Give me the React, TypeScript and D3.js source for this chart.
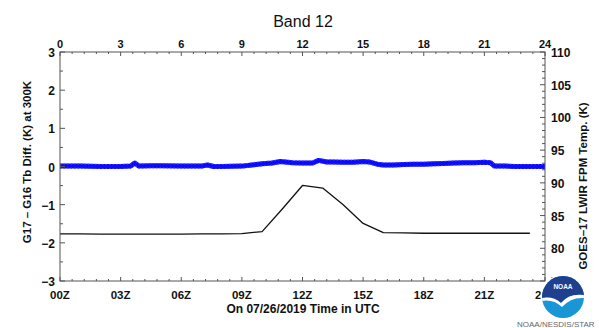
import * as d3 from 'd3';

// Black line: GOES-17 LWIR FPM temperature (K), right axis
const tempHours = [0, 1, 2, 3, 4, 5, 6, 7, 8, 9, 10, 11, 12, 13, 14, 15, 16, 17, 18, 19, 20, 21, 22, 23, 23.25];
const tempValues = [82.2, 82.2, 82.15, 82.15, 82.15, 82.15, 82.15, 82.2, 82.2, 82.25, 82.55, 86.0, 89.6, 89.2, 86.7, 83.8, 82.4, 82.35, 82.3, 82.3, 82.3, 82.3, 82.3, 82.3, 82.3];

// Blue band: G17 - G16 Tb difference (K), left axis
const diffHours = [0, 1, 2, 3, 3.5, 3.7, 3.9, 4.5, 5, 6, 7, 7.3, 7.6, 8, 9, 9.5, 10, 10.5, 10.9, 11.5, 12, 12.5, 12.8, 13.2, 13.5, 14, 14.5, 15, 15.3, 15.7, 16, 16.5, 17, 17.5, 18, 18.5, 19, 19.5, 20, 20.5, 21, 21.3, 21.5, 22, 22.5, 23, 23.5, 24];
const diffValues = [0.01, 0.01, 0.0, 0.0, 0.01, 0.09, 0.01, 0.02, 0.02, 0.01, 0.01, 0.04, 0.0, 0.0, 0.01, 0.04, 0.07, 0.09, 0.13, 0.1, 0.09, 0.09, 0.16, 0.12, 0.12, 0.11, 0.11, 0.13, 0.12, 0.06, 0.04, 0.04, 0.05, 0.06, 0.06, 0.07, 0.08, 0.09, 0.1, 0.1, 0.11, 0.1, 0.01, 0.01, 0.0, 0.0, 0.0, 0.0];

const topTicks = [0, 3, 6, 9, 12, 15, 18, 21, 24];
const bottomLabels = ['00Z', '03Z', '06Z', '09Z', '12Z', '15Z', '18Z', '21Z', '24Z'];
const leftTicks = [-3, -2, -1, 0, 1, 2, 3];
const rightTicks = [75, 80, 85, 90, 95, 100, 105, 110];

const W = 599;
const H = 328;
const box = { left: 60, right: 545, top: 52, bottom: 281 };
const font = '"Liberation Sans", Arial, sans-serif';
const axisColor = '#555';

export default function App() {
  const x = d3.scaleLinear().domain([0, 24]).range([box.left, box.right]);
  const yL = d3.scaleLinear().domain([-3, 3]).range([box.bottom, box.top]);
  const yR = d3.scaleLinear().domain([75, 110]).range([box.bottom, box.top]);

  const diffPts = diffHours.map((h, i) => [h, diffValues[i]] as [number, number]);
  const tempPts = tempHours.map((h, i) => [h, tempValues[i]] as [number, number]);

  const diffLine = d3.line<[number, number]>().x(d => x(d[0])).y(d => yL(d[1]));
  const tempLine = d3.line<[number, number]>().x(d => x(d[0])).y(d => yR(d[1]));

  // minor ticks
  const xMinor = d3.range(0, 24.001, 0.6).filter(v => Math.abs(v / 3 - Math.round(v / 3)) > 0.01);
  const yLMinor = d3.range(-2.5, 3, 1);
  const yRMinor = d3.range(76, 110, 1).filter(v => v % 5 !== 0);

  const cx = 563;
  const cy = 297;
  const r = 21;

  return (
    <div style={{ position: 'absolute', left: 0, top: 0 }}>
      <svg width={W} height={H} style={{ display: 'block', background: '#fff' }} fontFamily={font}>
        <defs>
          <clipPath id="plotclip">
            <rect x={box.left} y={box.top} width={box.right - box.left} height={box.bottom - box.top} />
          </clipPath>
          <clipPath id="logoclip">
            <circle cx={cx} cy={cy} r={r} />
          </clipPath>
        </defs>

        <text x={303} y={27} textAnchor="middle" fontSize={16} fill="#111">Band 12</text>

        {/* data */}
        <g clipPath="url(#plotclip)">
          <path d={diffLine(diffPts) || ''} fill="none" stroke="#0a0aff" strokeWidth={5} strokeLinejoin="round" />
          <path d={diffLine(diffPts) || ''} fill="none" stroke="#3d3dff" strokeWidth={1} strokeDasharray="1.5,2" transform="translate(0,-2)" />
          <path d={diffLine(diffPts) || ''} fill="none" stroke="#3d3dff" strokeWidth={1} strokeDasharray="1.5,2" transform="translate(0,2)" />
          <path d={tempLine(tempPts) || ''} fill="none" stroke="#111" strokeWidth={1.3} strokeLinejoin="round" />
        </g>

        {/* frame */}
        <rect x={box.left} y={box.top} width={box.right - box.left} height={box.bottom - box.top} fill="none" stroke={axisColor} strokeWidth={1} />

        {/* top / bottom ticks */}
        {topTicks.map(t => (
          <g key={'xt' + t}>
            <line x1={x(t)} x2={x(t)} y1={box.top} y2={box.top + 4} stroke={axisColor} />
            <line x1={x(t)} x2={x(t)} y1={box.bottom} y2={box.bottom - 4} stroke={axisColor} />
          </g>
        ))}
        {xMinor.map(t => (
          <g key={'xm' + t}>
            <line x1={x(t)} x2={x(t)} y1={box.top} y2={box.top + 2} stroke={axisColor} />
            <line x1={x(t)} x2={x(t)} y1={box.bottom} y2={box.bottom - 2} stroke={axisColor} />
          </g>
        ))}
        {topTicks.map(t => (
          <text key={'xl' + t} x={x(t)} y={48} textAnchor="middle" fontSize={11} fontWeight="bold" fill="#111">{t}</text>
        ))}
        {topTicks.map((t, i) => (
          <text key={'bl' + t} x={x(t)} y={299} textAnchor="middle" fontSize={11.5} fontWeight="bold" fill="#111">{bottomLabels[i]}</text>
        ))}
        <text x={303} y={313} textAnchor="middle" fontSize={12} fontWeight="bold" fill="#111">On 07/26/2019 Time in UTC</text>

        {/* left axis */}
        {leftTicks.map(t => (
          <g key={'yl' + t}>
            <line x1={box.left} x2={box.left + 5} y1={yL(t)} y2={yL(t)} stroke={axisColor} />
            <text x={55} y={yL(t) + 5} textAnchor="end" fontSize={12} fontWeight="bold" fill="#111">{t < 0 ? '\u2212' + Math.abs(t) : t}</text>
          </g>
        ))}
        {yLMinor.map(t => (
          <line key={'ylm' + t} x1={box.left} x2={box.left + 3} y1={yL(t)} y2={yL(t)} stroke={axisColor} />
        ))}
        <text transform={`translate(31,162) rotate(-90)`} textAnchor="middle" fontSize={11.5} fontWeight="bold" fill="#111">G17 – G16 Tb Diff. (K) at 300K</text>

        {/* right axis */}
        {rightTicks.map(t => (
          <g key={'yr' + t}>
            <line x1={box.right} x2={box.right - 5} y1={yR(t)} y2={yR(t)} stroke={axisColor} />
            <text x={551} y={yR(t) + 5} textAnchor="start" fontSize={12} fontWeight="bold" fill="#111">{t}</text>
          </g>
        ))}
        {yRMinor.map(t => (
          <line key={'yrm' + t} x1={box.right} x2={box.right - 3} y1={yR(t)} y2={yR(t)} stroke={axisColor} />
        ))}
        <text transform={`translate(587,186) rotate(-90)`} textAnchor="middle" fontSize={11.5} fontWeight="bold" fill="#111">GOES–17 LWIR FPM Temp. (K)</text>

        {/* NOAA logo */}
        <circle cx={cx} cy={cy} r={r + 1.5} fill="#fff" />
        <g clipPath="url(#logoclip)">
          <rect x={cx - r} y={cy - r} width={2 * r} height={2 * r} fill="#1896d6" />
          <path d={`M${cx - r},${cy - r} L${cx + r},${cy - r} L${cx + r},${cy - 2} Q${cx + 6},${cy - 4} ${cx - 2},${cy + 6} Q${cx - 10},${cy - 1} ${cx - r},${cy + 1} Z`} fill="#1f3f8f" />
          <path d={`M${cx - r},${cy + 1} Q${cx - 10},${cy - 1} ${cx - 2},${cy + 6} Q${cx + 6},${cy - 4} ${cx + r},${cy - 2} L${cx + r},${cy + 1} Q${cx + 8},${cy} ${cx - 1},${cy + 10} Q${cx - 10},${cy + 2} ${cx - r},${cy + 4} Z`} fill="#fff" />
        </g>
        <text x={cx} y={cy - 8} textAnchor="middle" fontSize={6.5} fontWeight="bold" fill="#fff">NOAA</text>
        <text x={517} y={327} fontSize={8} fill="#666">NOAA/NESDIS/STAR</text>
      </svg>
    </div>
  );
}
